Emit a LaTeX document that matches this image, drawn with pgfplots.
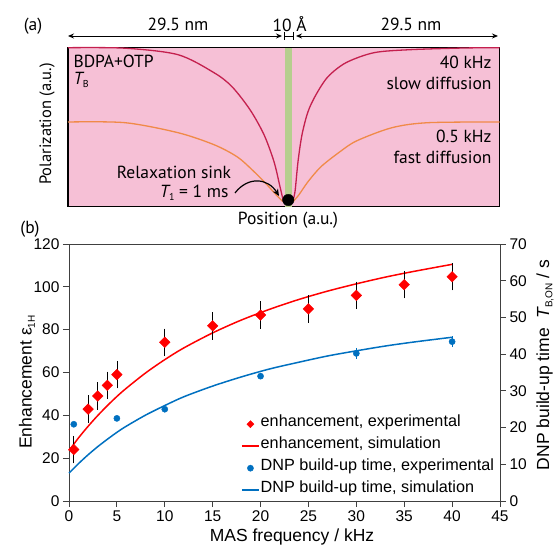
\documentclass[border=0pt]{standalone}
\usepackage{fontspec}
\setmainfont{Liberation Sans}
\newfontfamily\myriad{PT Sans}
\usepackage{pgfplots}
\pgfplotsset{compat=1.18}
\usetikzlibrary{arrows.meta}
\definecolor{pinkbg}{RGB}{246,192,214}
\definecolor{crim}{RGB}{196,32,78}
\definecolor{orng}{RGB}{240,138,72}
\definecolor{grn}{RGB}{182,206,142}
\definecolor{myred}{RGB}{255,0,0}
\definecolor{myblue}{RGB}{0,112,192}
\definecolor{axgray}{RGB}{64,64,64}
\newcommand\sub[1]{\raisebox{-0.35ex}{\fontsize{10}{10}\selectfont #1}}
\begin{document}
\begin{tikzpicture}
\path[use as bounding box] (0,0) rectangle (558pt,551pt);

% (a) schematic profile
\begin{axis}[
  at={(68pt,344.3pt)}, anchor=south west,
  scale only axis, width=431.5pt, height=159pt,
  xmin=68, xmax=499.5, ymin=0, ymax=159,
  ticks=none, clip=false,
  axis line style={line width=1.6pt, black},
  axis background/.style={fill=pinkbg},
]
\addplot[fill=grn, draw=none] coordinates {(285,159) (292,159)} \closedcycle;
\addplot[orng, line width=1.3pt, smooth] coordinates {
  (68,84.7) (125,84) (178,74) (214,62) (237,50) (252,37) (266,23) (277,11) (283,5)};
\addplot[orng, line width=1.3pt, smooth] coordinates {
  (293,5) (299,12) (308,25) (321,40) (340,55) (357,66) (392,79) (428,84) (499.5,84.7)};
\addplot[crim, line width=1.3pt, smooth] coordinates {
  (68,159) (125,158.5) (178,152) (214,134) (232,120) (250,97) (264,72) (274,45) (280,20) (283.5,5)};
\addplot[crim, line width=1.3pt, smooth] coordinates {
  (292.5,5) (295,15) (298,45) (302,72) (308,95) (316,112) (328,130) (346,144) (374,154) (410,157) (464,158.7) (499.5,159)};
\addplot[only marks, mark=*, mark size=5.7pt, black] coordinates {(288.3,6.7)};
\end{axis}

% (b) enhancement and build-up time
\begin{axis}[
  at={(69pt,50pt)}, anchor=south west,
  scale only axis, width=431pt, height=257pt,
  xmin=0, xmax=45, ymin=0, ymax=120,
  xtick={0,5,...,45}, ytick={0,20,...,120},
  xtick pos=bottom, ytick pos=left,
  tick align=outside, major tick length=6pt,
  axis line style={axgray, line width=0.9pt},
  tick style={axgray, line width=0.9pt},
  ticklabel style={font=\fontsize{15.5}{18}\selectfont},
  /pgf/number format/assume math mode=true,
  clip=false,
]
\addplot[myred, line width=1.5pt, smooth] coordinates {
  (0,23.5) (1,29.5) (2,34.9) (3,39.9) (4,44.5) (5,48.8) (6,52.7) (8,59.8)
  (10,66.0) (12,71.5) (15,78.5) (18,84.5) (21,89.6) (24,94.1) (27,98.0)
  (30,101.4) (33,104.5) (36,107.2) (40,110.5)};
\addplot[only marks, mark=square*, mark size=3.75pt, myred, mark options={rotate=45},
  error bars/.cd, y dir=both, y explicit,
  error bar style={black, line width=0.6pt},
  error mark options={black, mark size=3pt, line width=0.6pt}]
  coordinates {
  (0.5,24.0) +- (0,5) (2,42.9) +- (0,5) (3,49.0) +- (0,5) (4,54.0) +- (0,5)
  (5,59.0) +- (0,5) (10,74.1) +- (0,5) (15,81.8) +- (0,5) (20,86.8) +- (0,5)
  (25,89.7) +- (0,5) (30,96.0) +- (0,5) (35,101.0) +- (0,5) (40,104.7) +- (0,5)};
\end{axis}

\begin{axis}[
  at={(69pt,50pt)}, anchor=south west,
  scale only axis, width=431pt, height=257pt,
  xmin=0, xmax=45, ymin=0, ymax=70,
  axis x line=none, axis y line*=right,
  ytick={0,10,...,70},
  tick align=outside, major tick length=6pt,
  axis line style={axgray, line width=0.9pt, -},
  tick style={axgray, line width=0.9pt},
  ticklabel style={font=\fontsize{15.5}{18}\selectfont},
  /pgf/number format/assume math mode=true,
  clip=false,
  legend style={draw=none, fill=none, at={(0.399,0.323)}, anchor=north west,
    font=\fontsize{16.2}{19}\selectfont, inner sep=0pt, row sep=10pt,
    nodes={inner sep=1pt, text height=0.75em, text depth=0.25em}},
  legend cell align=left,
]
\addlegendimage{only marks, mark=square*, mark size=2.5pt, myred, mark options={rotate=45}}
\addlegendentry{enhancement, experimental}
\addlegendimage{myred, line width=1.5pt}
\addlegendentry{enhancement, simulation}
\addplot[only marks, mark=*, mark size=3.1pt, myblue,
  error bars/.cd, y dir=both, y explicit,
  error bar style={myblue, line width=0.6pt},
  error mark options={myblue, mark size=2.5pt, line width=0.6pt}]
  coordinates {
  (0.5,20.9) +- (0,0) (5,22.5) +- (0,0) (10,25.0) +- (0,0)
  (20,34.0) +- (0,0) (30,40.2) +- (0,0.8) (40,43.4) +- (0,0.8)};
\addlegendentry{DNP build-up time, experimental}
\addplot[myblue, line width=1.5pt, smooth] coordinates {
  (0,7.6) (1,10.2) (2,12.6) (3,14.8) (4,16.8) (5,18.7) (6,20.4) (8,23.4)
  (10,26.0) (12,28.4) (15,31.3) (18,33.8) (21,36.0) (24,37.8) (27,39.5)
  (30,40.9) (33,42.2) (36,43.3) (40,44.6)};
\addlegendentry{DNP build-up time, simulation}
\end{axis}

% text in pixel coordinates (y downward)
\begin{scope}[shift={(0pt,551pt)}, x=1pt, y=-1pt]
\begin{scope}[font=\myriad\fontsize{17.5}{20}\selectfont]
\node at (33,26) {(a)};
\node at (30,229) {(b)};
\node at (178,24) {29.5 nm};
\node at (289.5,24) {10 Å};
\node at (411,24) {29.5 nm};
\draw[{Stealth[length=6pt,width=5pt]}-{Stealth[length=6pt,width=5pt]}, line width=0.9pt] (68,36) -- (282,36);
\draw[{Stealth[length=6pt,width=5pt]}-{Stealth[length=6pt,width=5pt]}, line width=0.9pt] (296,36) -- (498,36);
\draw[line width=0.7pt] (284,32) -- (284,40) (293,32) -- (293,40) (284,36) -- (293,36);
\node[anchor=west] at (70,61) {BDPA+OTP};
\node[anchor=west] at (70,80) {\itshape T\upshape\sub{B}};
\node[anchor=east] at (495,62) {40 kHz};
\node[anchor=east] at (495,83) {slow diffusion};
\node[anchor=east] at (495,136) {0.5 kHz};
\node[anchor=east] at (495,157) {fast diffusion};
\node at (174,172) {Relaxation sink};
\node[anchor=east] at (232,193) {\itshape T\upshape\sub{1} = 1 ms};
\node[rotate=90,font=\myriad\fontsize{16.5}{19}\selectfont] at (47,124) {Polarization (a.u.)};
\node at (288,220) {Position (a.u.)};
\draw[-{Stealth[length=7pt,width=6pt]}, line width=1.2pt] (235,193) .. controls (248,176) and (268,178) .. (279,196);
\end{scope}
\begin{scope}[font=\fontsize{17.5}{20}\selectfont]
\node[rotate=90] at (27,382) {Enhancement ε\sub{1H}};
\node[rotate=90] at (545,365) {DNP build-up time \ \itshape T\upshape\sub{B,ON} / s};
\node at (292,537) {MAS frequency / kHz};
\end{scope}
\end{scope}
\end{tikzpicture}
\end{document}
